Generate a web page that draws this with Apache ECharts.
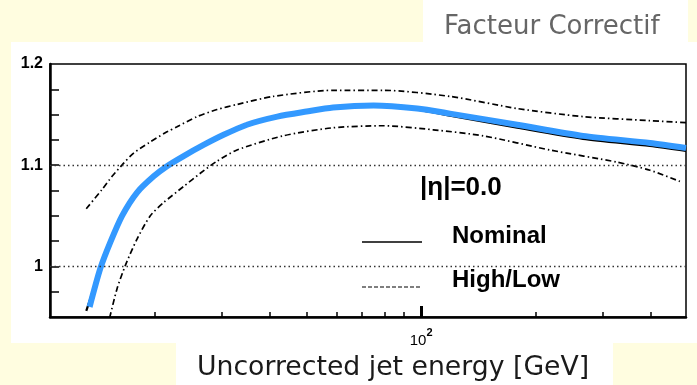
<!DOCTYPE html>
<html>
<head>
<meta charset="utf-8">
<script src="https://cdn.jsdelivr.net/npm/echarts@6/dist/echarts.min.js"></script>
<style>
  html, body { margin: 0; padding: 0; background: #fffde0; }
  #chart { width: 697px; height: 385px; }
</style>
</head>
<body>
<div id="chart"></div>
<script>
// Correction factor vs uncorrected jet energy, |eta| = 0.0

// Fitted curve (blue)
const fitEnergy = [13.47, 14.37, 15.27, 16.39, 17.94, 19.84, 21.5, 23.78, 26.83, 30.28, 34.87, 41.9, 50, 58.7, 75, 97.6, 119, 178.7, 266, 399, 496];
const fitFactor = [0.960, 0.998, 1.024, 1.050, 1.073, 1.089, 1.099, 1.109, 1.120, 1.130, 1.140, 1.148, 1.153, 1.157, 1.159, 1.156, 1.151, 1.140, 1.129, 1.122, 1.117];

// Nominal correction (solid black)
const nominalEnergy = [13.2, 14.37, 15.27, 16.39, 17.94, 19.84, 21.5, 23.78, 26.83, 30.28, 34.87, 41.9, 50, 58.7, 75, 97.6, 119, 178.7, 266, 399, 496];
const nominalFactor = [0.956, 0.997, 1.023, 1.049, 1.072, 1.088, 1.098, 1.108, 1.119, 1.129, 1.139, 1.148, 1.153, 1.157, 1.159, 1.155, 1.149, 1.137, 1.126, 1.119, 1.114];

// High variation (dash-dot)
const highEnergy = [13.2, 14.52, 15.43, 16.55, 17.58, 19.25, 21.28, 22.85, 25.78, 29.1, 32.83, 40.9, 58.7, 79.5, 119, 178.7, 266, 399, 496];
const highFactor = [1.057, 1.076, 1.089, 1.102, 1.112, 1.122, 1.132, 1.138, 1.148, 1.155, 1.160, 1.168, 1.174, 1.174, 1.168, 1.156, 1.148, 1.144, 1.142];

// Low variation (dash-dot)
const lowEnergy = [15.2, 15.9, 16.72, 17.94, 19.44, 21.06, 23.78, 26.3, 29.1, 32.83, 43.4, 58.7, 79.5, 107.5, 145.5, 218, 327, 399, 478];
const lowFactor = [0.949, 0.978, 1.001, 1.027, 1.050, 1.063, 1.079, 1.092, 1.104, 1.115, 1.129, 1.137, 1.139, 1.135, 1.129, 1.115, 1.103, 1.095, 1.084];

// Axis ticks and labels
const xMinorTicks = [20, 30, 40, 50, 60, 70, 80, 90, 200, 300, 400];
const xMajorTicks = [100];
const yTicks = [0.975, 1.0, 1.025, 1.05, 1.075, 1.1, 1.125, 1.15, 1.175];
const yLabels = [1.0, 1.1, 1.2];
const refLines = [1.0, 1.1];

const xMin = 10.6, xMax = 496;
const yMin = 0.95, yMax = 1.2;

const pairs = (xs, ys) => xs.map((x, i) => [x, ys[i]]);

const chart = echarts.init(document.getElementById('chart'));

const boldFace = '"Liberation Sans", Arial, sans-serif';
const slideFace = '"DejaVu Sans", Verdana, sans-serif';

const dashDot = [6, 3, 1.5, 3];

chart.setOption({
  backgroundColor: '#fffde0',
  animation: false,
  graphic: [
    { type: 'rect', z: -10, shape: { x: 11, y: 42, width: 686, height: 301 }, style: { fill: '#ffffff' } },
    { type: 'rect', z: -10, shape: { x: 423, y: 0, width: 265, height: 42 }, style: { fill: '#ffffff' } },
    { type: 'rect', z: -10, shape: { x: 176, y: 343, width: 437, height: 42 }, style: { fill: '#ffffff' } },
    { type: 'text', left: 444, top: 14, style: { text: 'Facteur Correctif', fill: '#666666', font: '26px ' + slideFace } },
    { type: 'text', left: 197, top: 355, style: { text: 'Uncorrected jet energy [GeV]', fill: '#1a1a1a', font: '26.7px ' + slideFace } },
    { type: 'text', left: 420, top: 175, style: { text: '|η|=0.0', fill: '#000', font: 'bold 26px ' + boldFace } },
    { type: 'text', left: 452, top: 224, style: { text: 'Nominal', fill: '#000', font: 'bold 24px ' + boldFace } },
    { type: 'text', left: 452, top: 268, style: { text: 'High/Low', fill: '#000', font: 'bold 24px ' + boldFace } },
    { type: 'line', shape: { x1: 362, y1: 242, x2: 422, y2: 242 }, style: { stroke: '#000', lineWidth: 1.5 } },
    { type: 'line', shape: { x1: 362, y1: 287, x2: 420, y2: 287 }, style: { stroke: '#000', lineWidth: 1.2, lineDash: [4, 2] } }
  ],
  grid: {
    left: 50, top: 64, right: 11, bottom: 68,
    show: true, borderColor: '#000', borderWidth: 1.5, backgroundColor: 'transparent'
  },
  xAxis: [
    {
      type: 'log', min: xMin, max: xMax,
      axisLine: { show: true, lineStyle: { color: '#000', width: 2.5 } },
      axisTick: { show: true, inside: true, length: 5, customValues: xMinorTicks, lineStyle: { color: '#000', width: 1.5 } },
      axisLabel: { show: false },
      splitLine: { show: false },
      minorTick: { show: false }
    },
    {
      type: 'log', min: xMin, max: xMax, position: 'bottom',
      axisLine: { show: false },
      axisTick: { show: true, inside: true, length: 11, customValues: xMajorTicks, lineStyle: { color: '#000', width: 3 } },
      axisLabel: {
        show: true, customValues: xMajorTicks, margin: 8,
        formatter: () => '{b|10}{s|2}',
        rich: {
          b: { fontSize: 15, fontFamily: boldFace, color: '#000', padding: [8, 0, 0, 0] },
          s: { fontSize: 11, fontFamily: boldFace, fontWeight: 'bold', color: '#000', padding: [0, 0, 7, 0] }
        }
      },
      splitLine: { show: false }
    }
  ],
  yAxis: {
    type: 'value', min: yMin, max: yMax,
    axisLine: { show: true, lineStyle: { color: '#000', width: 2.5 } },
    axisTick: { show: true, inside: true, length: 9, customValues: yTicks, lineStyle: { color: '#000', width: 1.5 } },
    axisLabel: {
      show: true, customValues: yLabels, margin: 7,
      formatter: v => (Math.abs(v - 1) < 1e-9 ? '1' : v.toFixed(1)),
      color: '#000', fontSize: 16, fontWeight: 'bold', fontFamily: boldFace
    },
    splitLine: { show: false }
  },
  series: [
    {
      name: 'High', type: 'line', xAxisIndex: 0, data: pairs(highEnergy, highFactor),
      smooth: 0.25, symbol: 'none', z: 2,
      lineStyle: { color: '#000', width: 1.7, type: dashDot },
      markLine: {
        silent: true, symbol: 'none', label: { show: false },
        lineStyle: { color: '#333', width: 1.3, type: [1.5, 3] },
        data: refLines.map(v => ({ yAxis: v }))
      }
    },
    {
      name: 'Low', type: 'line', xAxisIndex: 0, data: pairs(lowEnergy, lowFactor),
      smooth: 0.25, symbol: 'none', z: 2,
      lineStyle: { color: '#000', width: 1.7, type: dashDot }
    },
    {
      name: 'Nominal', type: 'line', xAxisIndex: 0, data: pairs(nominalEnergy, nominalFactor),
      smooth: 0.25, symbol: 'none', z: 3,
      lineStyle: { color: '#000', width: 2.2 }
    },
    {
      name: 'Fit', type: 'line', xAxisIndex: 0, data: pairs(fitEnergy, fitFactor),
      smooth: 0.25, symbol: 'none', z: 4,
      lineStyle: { color: '#3399ff', width: 6, cap: 'butt' }
    }
  ]
});
</script>
</body>
</html>
